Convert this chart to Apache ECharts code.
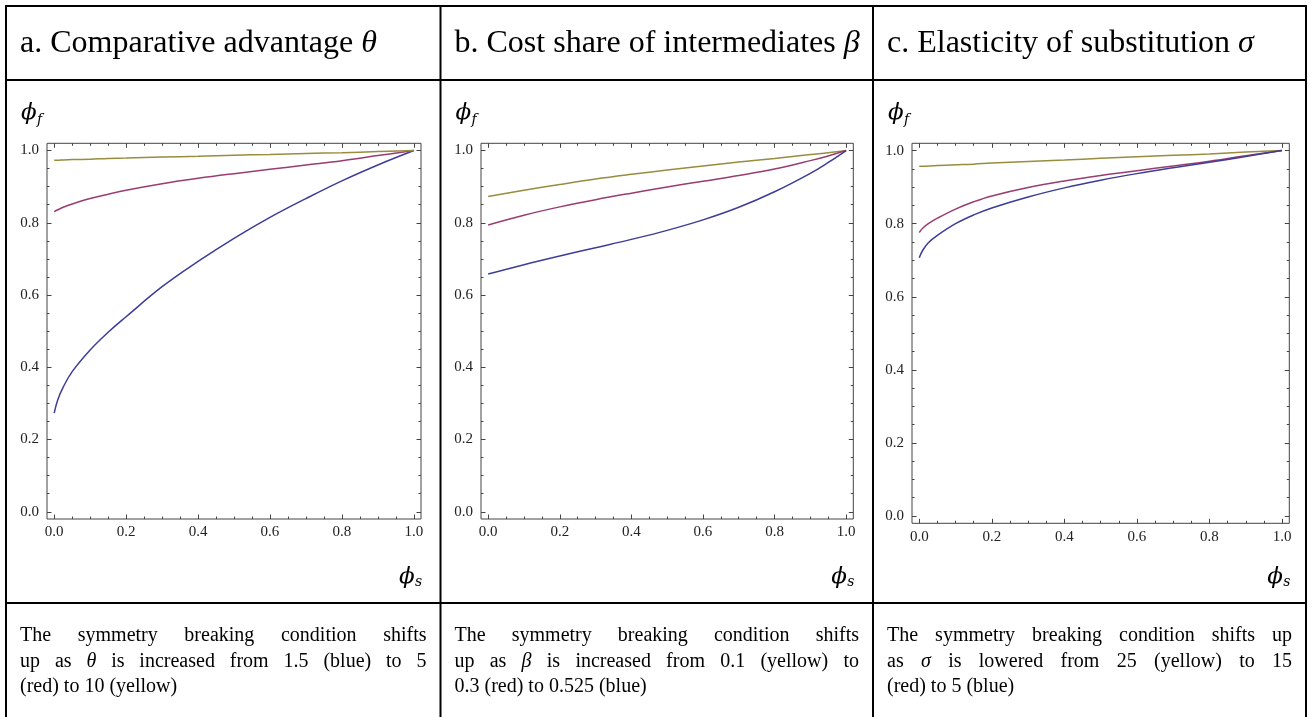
<!DOCTYPE html>
<html>
<head>
<meta charset="utf-8">
<script src="https://cdn.jsdelivr.net/npm/echarts@6/dist/echarts.min.js"></script>
<style>
html,body{margin:0;padding:0;background:#fff;}
#chart{width:1314px;height:717px;}
</style>
</head>
<body>
<div id="chart"></div>
<script>
// ---------------- DATA ----------------
const majorTicks = [0, 0.2, 0.4, 0.6, 0.8, 1.0];
const minorTicks = [0.05,0.1,0.15,0.25,0.3,0.35,0.45,0.5,0.55,0.65,0.7,0.75,0.85,0.9,0.95];

const headerA = ["a. Comparative advantage ", "θ"];
const headerB = ["b. Cost share of intermediates ", "β"];
const headerC = ["c. Elasticity of substitution ", "σ"];

const captionA = ["The symmetry breaking condition shifts", "up as θ is increased from 1.5 (blue) to 5", "(red) to 10 (yellow)"];
const captionB = ["The symmetry breaking condition shifts", "up as β is increased from 0.1 (yellow) to", "0.3 (red) to 0.525 (blue)"];
const captionC = ["The symmetry breaking condition shifts up", "as σ is lowered from 25 (yellow) to 15", "(red) to 5 (blue)"];

// panel a : comparative advantage theta
const phiS_a   = [0, 0.01, 0.025, 0.05, 0.1, 0.15, 0.2, 0.3, 0.4, 0.5, 0.6, 0.7, 0.8, 0.9, 1.0];
const blue_a   = [0.273, 0.310, 0.345, 0.388, 0.448, 0.497, 0.540, 0.623, 0.693, 0.757, 0.815, 0.867, 0.916, 0.960, 1.0];
const red_a    = [0.831, 0.836, 0.843, 0.852, 0.867, 0.879, 0.890, 0.908, 0.923, 0.936, 0.948, 0.960, 0.972, 0.986, 1.0];
const yellow_a = [0.973, 0.973, 0.974, 0.975, 0.976, 0.978, 0.979, 0.982, 0.984, 0.987, 0.989, 0.992, 0.994, 0.997, 1.0];

// panel b : cost share of intermediates beta
const phiS_b   = [0, 0.1, 0.2, 0.3, 0.4, 0.5, 0.6, 0.7, 0.8, 0.9, 0.95, 1.0];
const blue_b   = [0.658, 0.684, 0.708, 0.731, 0.754, 0.779, 0.808, 0.843, 0.886, 0.937, 0.967, 1.0];
const red_b    = [0.794, 0.821, 0.844, 0.864, 0.882, 0.899, 0.915, 0.931, 0.949, 0.972, 0.985, 1.0];
const yellow_b = [0.873, 0.890, 0.906, 0.921, 0.934, 0.946, 0.957, 0.968, 0.978, 0.989, 0.994, 1.0];

// panel c : elasticity of substitution sigma
const phiS_c   = [0, 0.01, 0.025, 0.05, 0.1, 0.15, 0.2, 0.3, 0.4, 0.5, 0.6, 0.7, 0.8, 0.9, 1.0];
const blue_c   = [0.707, 0.728, 0.748, 0.768, 0.800, 0.824, 0.843, 0.873, 0.898, 0.919, 0.937, 0.953, 0.968, 0.984, 1.0];
const red_c    = [0.776, 0.788, 0.800, 0.815, 0.840, 0.860, 0.876, 0.899, 0.917, 0.932, 0.945, 0.958, 0.971, 0.986, 1.0];
const yellow_c = [0.957, 0.957, 0.958, 0.959, 0.961, 0.963, 0.966, 0.970, 0.974, 0.979, 0.983, 0.987, 0.991, 0.996, 1.0];

// ---------------- STYLE / LAYOUT ----------------
const COLORS = {blue:'#3d3d99', red:'#993d71', yellow:'#998c3d'};
const SERIF = "'Liberation Serif','Times New Roman',serif";
const MATH = "'DejaVu Serif',serif";
const FRAME = '#444';

const panels = [
  {grid:{left:47, top:143.3, width:374, height:375.7}, x:phiS_a, series:[['blue',blue_a],['red',red_a],['yellow',yellow_a]],
   header:headerA, caption:captionA, colX:6, colW:434.5},
  {grid:{left:481, top:143.3, width:372.3, height:375.7}, x:phiS_b, series:[['yellow',yellow_b],['red',red_b],['blue',blue_b]],
   header:headerB, caption:captionB, colX:440.5, colW:432.5},
  {grid:{left:912, top:143.3, width:377.3, height:380}, x:phiS_c, series:[['yellow',yellow_c],['red',red_c],['blue',blue_c]],
   header:headerC, caption:captionC, colX:873, colW:433}
];

const grids = [], xAxes = [], yAxes = [], series = [], graphics = [];

function mkAxis(dim, gi, pos, values, len, labels){
  return {
    type:'value', gridIndex:gi, position:pos, min:-0.02, max:1.02,
    axisLine:{show:false, onZero:false}, splitLine:{show:false},
    axisTick:{show:true, inside:true, length:len, customValues:values, lineStyle:{color:FRAME, width:1}},
    axisLabel: labels ? {show:true, customValues:values, formatter:v=>Number(v).toFixed(1),
      fontFamily:SERIF, fontSize:15, color:'#222', margin: dim==='x'?6:8} : {show:false}
  };
}

panels.forEach((p, gi) => {
  grids.push(Object.assign({show:true, borderColor:FRAME, borderWidth:1, backgroundColor:'transparent'}, p.grid));
  const xb = xAxes.length;
  xAxes.push(mkAxis('x', gi, 'bottom', majorTicks, 4.5, true));
  xAxes.push(mkAxis('x', gi, 'bottom', minorTicks, 2.5, false));
  xAxes.push(mkAxis('x', gi, 'top', majorTicks, 4.5, false));
  xAxes.push(mkAxis('x', gi, 'top', minorTicks, 2.5, false));
  const yb = yAxes.length;
  yAxes.push(mkAxis('y', gi, 'left', majorTicks, 4.5, true));
  yAxes.push(mkAxis('y', gi, 'left', minorTicks, 2.5, false));
  yAxes.push(mkAxis('y', gi, 'right', majorTicks, 4.5, false));
  yAxes.push(mkAxis('y', gi, 'right', minorTicks, 2.5, false));
  p.series.forEach(([c, vals]) => {
    series.push({
      type:'line', xAxisIndex:xb, yAxisIndex:yb, showSymbol:false, symbol:'none',
      smooth:0.4, silent:true, animation:false,
      lineStyle:{color:COLORS[c], width:1.5}, itemStyle:{color:COLORS[c]},
      data: p.x.map((x,i)=>[x, vals[i]])
    });
  });
});

// ---------------- TABLE LINES ----------------
const tableXs = [6, 440.5, 873, 1306];
const tableYs = [6, 80, 603];
tableYs.forEach(y => graphics.push({type:'line', shape:{x1:5, y1:y, x2:1307, y2:y}, style:{stroke:'#000', lineWidth:2}, silent:true}));
tableXs.forEach(x => graphics.push({type:'line', shape:{x1:x, y1:5, x2:x, y2:717}, style:{stroke:'#000', lineWidth:2}, silent:true}));

// ---------------- TEXTS ----------------
const measureCtx = document.createElement('canvas').getContext('2d');
function textW(str, font){ measureCtx.font = font; return measureCtx.measureText(str).width; }

const CAP_SIZE = 20;
const capFont = CAP_SIZE + "px " + SERIF;
const capFontIt = "italic " + CAP_SIZE + "px " + SERIF;
const GREEK = /^[θβσ]$/;

function captionLines(lines, x0, width, y0, lh){
  lines.forEach((line, li) => {
    const words = line.split(' ');
    const fonts = words.map(w => GREEK.test(w) ? capFontIt : capFont);
    const widths = words.map((w,i) => textW(w, fonts[i]));
    const total = widths.reduce((a,b)=>a+b, 0);
    const last = li === lines.length - 1;
    const gap = last ? textW(' ', capFont) : (width - total) / (words.length - 1);
    let x = x0;
    words.forEach((w,i) => {
      graphics.push({type:'text', silent:true, style:{
        text:w, x:x, y:y0 + li*lh, fill:'#000',
        fontSize:CAP_SIZE, fontFamily:SERIF, fontStyle: GREEK.test(w)?'italic':'normal',
        align:'left', verticalAlign:'middle', textAlign:'left', textVerticalAlign:'middle'}});
      x += widths[i] + gap;
    });
  });
}

panels.forEach((p) => {
  const left = p.colX + 14;
  graphics.push({type:'text', silent:true, style:{
    text:'{n|' + p.header[0] + '}{m|' + p.header[1] + '}', x:left, y:44,
    align:'left', verticalAlign:'middle', textAlign:'left', textVerticalAlign:'middle',
    rich:{n:{fontFamily:SERIF, fontSize:32, fill:'#000', color:'#000'},
          m:{fontFamily:SERIF, fontSize:32, fontStyle:'italic', fill:'#000', color:'#000'}}}});
  graphics.push({type:'text', silent:true, style:{text:'ϕ', x:left+1, y:113, fill:'#000', fontSize:23, fontFamily:MATH, fontStyle:'italic',
    align:'left', verticalAlign:'middle', textAlign:'left', textVerticalAlign:'middle'}});
  graphics.push({type:'text', silent:true, style:{text:'f', x:left+17, y:120, fill:'#000', fontSize:14, fontFamily:MATH, fontStyle:'italic',
    align:'left', verticalAlign:'middle', textAlign:'left', textVerticalAlign:'middle'}});
  const gr = p.grid.left + p.grid.width;
  graphics.push({type:'text', silent:true, style:{text:'ϕ', x:gr-22, y:577, fill:'#000', fontSize:23, fontFamily:MATH, fontStyle:'italic',
    align:'left', verticalAlign:'middle', textAlign:'left', textVerticalAlign:'middle'}});
  graphics.push({type:'text', silent:true, style:{text:'s', x:gr-6, y:582, fill:'#000', fontSize:14, fontFamily:MATH, fontStyle:'italic',
    align:'left', verticalAlign:'middle', textAlign:'left', textVerticalAlign:'middle'}});
  captionLines(p.caption, left, p.colW - 28, 636, 25.5);
});

const chart = echarts.init(document.getElementById('chart'), null, {renderer:'canvas', width:1314, height:717});
chart.setOption({
  animation:false,
  backgroundColor:'#fff',
  grid:grids, xAxis:xAxes, yAxis:yAxes, series:series,
  graphic:{elements:graphics}
});
</script>
</body>
</html>
